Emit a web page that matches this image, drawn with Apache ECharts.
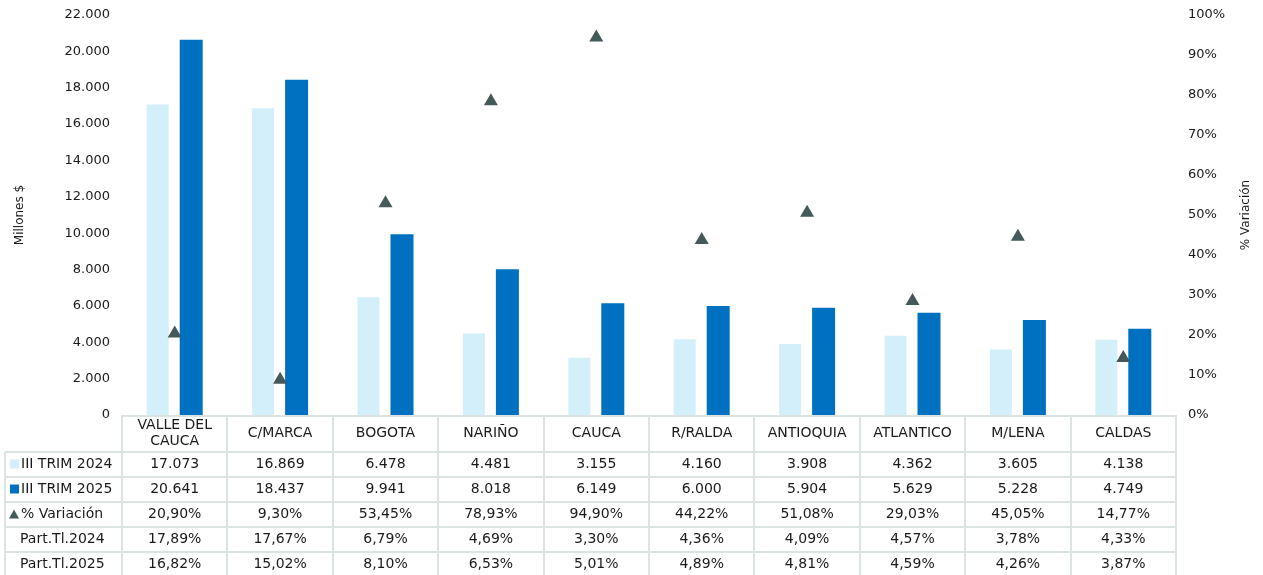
<!DOCTYPE html>
<html>
<head>
<meta charset="utf-8">
<script src="https://cdn.jsdelivr.net/npm/echarts@6/dist/echarts.min.js"></script>
<style>
html, body { margin: 0; padding: 0; background: #fff; }
#chart { width: 1263px; height: 575px; }
</style>
</head>
<body>
<div id="chart"></div>
<script>
var categorias = ['VALLE DEL\nCAUCA', 'C/MARCA', 'BOGOTA', 'NARIÑO', 'CAUCA', 'R/RALDA', 'ANTIOQUIA', 'ATLANTICO', 'M/LENA', 'CALDAS'];
var trim2024 = [17073, 16869, 6478, 4481, 3155, 4160, 3908, 4362, 3605, 4138];
var trim2025 = [20641, 18437, 9941, 8018, 6149, 6000, 5904, 5629, 5228, 4749];
var variacion = [20.90, 9.30, 53.45, 78.93, 94.90, 44.22, 51.08, 29.03, 45.05, 14.77];
var part2024 = [17.89, 17.67, 6.79, 4.69, 3.30, 4.36, 4.09, 4.57, 3.78, 4.33];
var part2025 = [16.82, 15.02, 8.10, 6.53, 5.01, 4.89, 4.81, 4.59, 4.26, 3.87];
var filas = ['III TRIM 2024', 'III TRIM 2025', '% Variación', 'Part.Tl.2024', 'Part.Tl.2025'];

var byId = function(id) {
	return document.getElementById(id);
};

var FONT = '"DejaVu Sans", Verdana, sans-serif';
var C_CLARO = '#d3effa';
var C_OSCURO = '#0070c0';
var C_TRI = '#43595a';
var C_LINEA = '#dbe3e3';

var gridL = 122, gridR = 87, gridT = 15, gridB = 160;
var W = 1263, H = 575;
var ejeY = H - gridB;           // 415
var filaH = 25;
var cabH = 37;

function miles(v) {
	return String(v).replace(/\B(?=(\d{3})+(?!\d))/g, '.');
}
function pct(v) {
	return v.toFixed(2).replace('.', ',') + '%';
}

// textos de cada fila de la tabla
var textosFila = [
	trim2024.map(miles),
	trim2025.map(miles),
	variacion.map(pct),
	part2024.map(pct),
	part2025.map(pct)
];

var xAxes = [{
	type: 'category',
	data: categorias,
	axisLine: { show: false },
	axisTick: { show: false },
	axisLabel: {
		color: '#1a1a1a', fontFamily: FONT, fontSize: 14, lineHeight: 16,
		margin: cabH / 2, verticalAlign: 'middle', interval: 0
	}
}];
for (var r = 0; r < filas.length; r++) {
	(function(r) {
		xAxes.push({
			type: 'category',
			data: categorias,
			position: 'bottom',
			offset: cabH + filaH * r + filaH / 2,
			axisLine: { show: false },
			axisTick: { show: false },
			axisLabel: {
				color: '#1a1a1a', fontFamily: FONT, fontSize: 14,
				margin: 0, verticalAlign: 'middle', interval: 0,
				formatter: function(v, i) { return textosFila[r][i]; }
			}
		});
	})(r);
}

var option = {
	animation: false,
	textStyle: { fontFamily: FONT },
	grid: { left: gridL, right: gridR, top: gridT, bottom: gridB },
	xAxis: xAxes,
	yAxis: [{
		type: 'value',
		min: 0, max: 22000, interval: 2000,
		name: 'Millones $',
		nameLocation: 'middle',
		nameRotate: 90,
		nameGap: 96,
		nameTextStyle: { color: '#1a1a1a', fontFamily: FONT, fontSize: 12 },
		axisLine: { show: false },
		axisTick: { show: false },
		splitLine: { show: false },
		axisLabel: {
			color: '#1a1a1a', fontFamily: FONT, fontSize: 13, margin: 12,
			formatter: function(v) { return miles(v); }
		}
	}, {
		type: 'value',
		min: 0, max: 100, interval: 10,
		position: 'right',
		name: '% Variación',
		nameLocation: 'middle',
		nameRotate: 90,
		nameGap: 64,
		nameTextStyle: { color: '#1a1a1a', fontFamily: FONT, fontSize: 12 },
		axisLine: { show: false },
		axisTick: { show: false },
		splitLine: { show: false },
		axisLabel: {
			color: '#1a1a1a', fontFamily: FONT, fontSize: 13, margin: 12,
			formatter: '{value}%'
		}
	}],
	series: [{
		name: 'III TRIM 2024',
		type: 'bar',
		data: trim2024,
		barWidth: 22,
		barGap: '50%',
		itemStyle: { color: C_CLARO }
	}, {
		name: 'III TRIM 2025',
		type: 'bar',
		data: trim2025,
		barWidth: 23,
		itemStyle: { color: C_OSCURO }
	}, {
		name: '% Variación',
		type: 'scatter',
		yAxisIndex: 1,
		data: variacion,
		symbol: 'triangle',
		symbolSize: [14, 12],
		itemStyle: { color: C_TRI, opacity: 1 }
	}]
};

var chart = echarts.init(byId('chart'));
chart.setOption(option);

// lineas de la tabla de datos
function dibujarTabla() {
	var els = [];
	var anchoCat = (W - gridL - gridR) / categorias.length;
	var fondo = ejeY + cabH + filaH * filas.length + 2;
	var xIzq = 5;
	var lin = function(x1, y1, x2, y2) {
		els.push({
			type: 'line', silent: true,
			shape: { x1: x1, y1: y1, x2: x2, y2: y2 },
			style: { stroke: C_LINEA, lineWidth: 2 }
		});
	};
	lin(gridL, ejeY + 1, W - gridR, ejeY + 1);
	for (var k = 0; k <= filas.length - 1; k++) {
		var y = ejeY + cabH + filaH * k;
		lin(xIzq, y, W - gridR, y);
	}
	for (var c = 0; c <= categorias.length; c++) {
		var x = Math.round(gridL + anchoCat * c);
		lin(x, ejeY, x, fondo);
	}
	lin(xIzq, ejeY + cabH, xIzq, fondo);

	// etiquetas de fila con su icono
	for (var i = 0; i < filas.length; i++) {
		var yc = ejeY + cabH + filaH * i + filaH / 2;
		var xt = 20;
		if (i < 2) {
			els.push({
				type: 'rect', silent: true,
				shape: { x: 10, y: yc - 5, width: 9, height: 9 },
				style: { fill: i == 0 ? C_CLARO : C_OSCURO }
			});
			xt = 21;
		} else if (i == 2) {
			els.push({
				type: 'polygon', silent: true,
				shape: { points: [[14, yc - 5], [19, yc + 4], [9, yc + 4]] },
				style: { fill: C_TRI }
			});
			xt = 21;
		}
		els.push({
			type: 'text', silent: true,
			x: xt, y: yc,
			style: {
				text: filas[i], fill: '#1a1a1a', font: '14px ' + FONT,
				verticalAlign: 'middle', align: 'left'
			}
		});
	}
	chart.setOption({ graphic: els });
}
dibujarTabla();
</script>
</body>
</html>
